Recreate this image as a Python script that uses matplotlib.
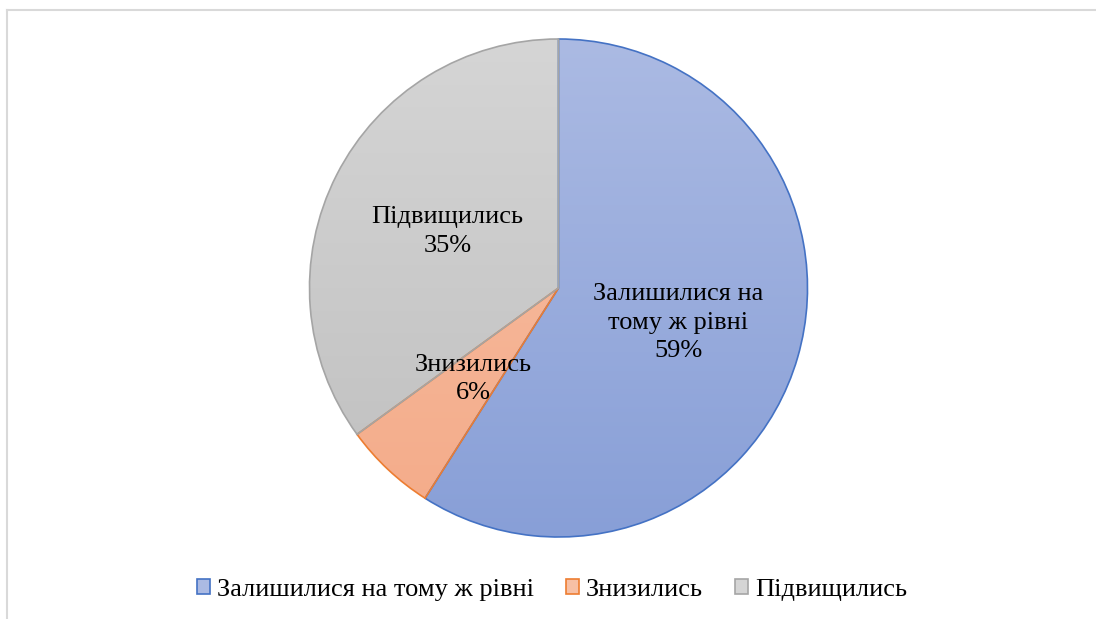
import numpy as np
import matplotlib.pyplot as plt
from matplotlib.colors import LinearSegmentedColormap
from matplotlib.patches import Patch
from matplotlib.lines import Line2D

# data
labels = ["Залишилися на\nтому ж рівні", "Знизились", "Підвищились"]
legend_names = ["Залишилися на тому ж рівні", "Знизились", "Підвищились"]
shares = [59, 6, 35]

# look
edge_cols = ["#4472c4", "#ed7d31", "#a5a5a5"]
top_cols = ["#abbae3", "#f7c0a5", "#d5d5d5"]
bot_cols = ["#889fd7", "#f4ab89", "#bfbfbf"]

plt.rcParams['font.family'] = ['Liberation Serif', 'DejaVu Serif']

fig = plt.figure(figsize=(10.96, 6.19), dpi=100)
W, H = 1096, 619
cx, cy, r = 558.5, 288, 249
ax = fig.add_axes([(cx - r) / W, (H - cy - r) / H, 2 * r / W, 2 * r / H])

wedges, _ = ax.pie(shares, startangle=90, counterclock=False, radius=1,
                   wedgeprops=dict(linewidth=1.2))
ax.set_xlim(-1.0, 1.0)
ax.set_ylim(-1.0, 1.0)

grad = np.linspace(1, 0, 256).reshape(-1, 1)
for w, ec, tc, bc in zip(wedges, edge_cols, top_cols, bot_cols):
    w.set_facecolor("none")
    w.set_edgecolor(ec)
    w.set_zorder(3)
    cmap = LinearSegmentedColormap.from_list("g", [bc, tc])
    im = ax.imshow(grad, cmap=cmap, extent=[-1, 1, -1, 1], aspect='auto',
                   origin='upper', zorder=2)
    im.set_clip_path(w)

for w, lab, v in zip(wedges, labels, shares):
    ang = np.deg2rad((w.theta1 + w.theta2) / 2)
    ax.text(0.5 * np.cos(ang), 0.5 * np.sin(ang), f"{lab}\n{v}%", ha='center',
            va='center', fontsize=19, zorder=5, linespacing=1.38)
ax.axis('off')

handles = [Patch(facecolor=(tc), edgecolor=ec, linewidth=1.2)
           for tc, ec in zip(top_cols, edge_cols)]
fig.legend(handles, legend_names, loc='center',
           bbox_to_anchor=(0.5 + 4 / W, 1 - 590 / H),
           ncol=3, frameon=False, fontsize=19, handlelength=0.5, handleheight=0.5,
           handletextpad=0.27, columnspacing=1.2)

# chart border (top and left only visible)
fig.add_artist(Line2D([7 / W, 7 / W], [0, 1 - 10 / H], color="#d9d9d9", lw=1.5))
fig.add_artist(Line2D([7 / W, 1], [1 - 10 / H, 1 - 10 / H], color="#d9d9d9", lw=1.5))

fig.savefig("out.png", dpi=100)
